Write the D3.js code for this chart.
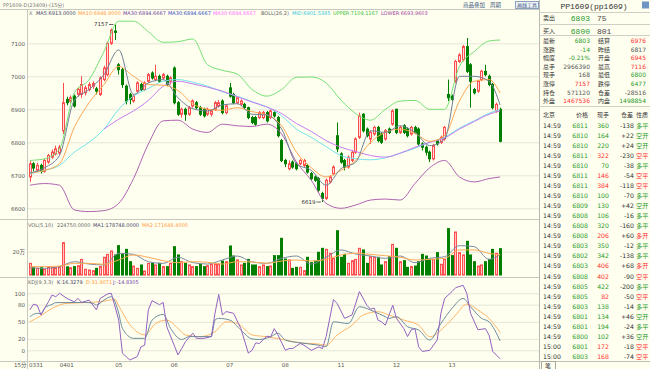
<!DOCTYPE html>
<html>
<head>
<meta charset="utf-8">
<script src="https://cdn.jsdelivr.net/npm/d3@7"></script>
<style>
  body { margin: 0; background: #fffff0; }
  svg { display: block; font-family: "DejaVu Sans", "Noto Sans CJK SC", sans-serif; }
</style>
</head>
<body>
<svg width="650" height="369"></svg>
<script>
// 15 minute bars, 0331 .. 0413
const open = [6695,6735,6715,6730,6712,6740,6755,6765,6768,6835, 6930,6925,6940,6945,6945,6950,6960,6970,6962,6945,
  6990,7005,7100,7137,7035,7020,6970,6945,6925,6955, 6975,6960,6985,7010,6990,7000,6995,7000,6985,7025,
  6920,6885,6900,6885,6910,6920,6905,6900,6885,6885, 6900,6910,6925,6890,6965,6945,6920,6915,6915,6905,
  6875,6875,6875,6875,6890,6875,6890,6875,6805,6745, 6720,6740,6735,6735,6730,6730,6705,6695,6690,6645,
  6630,6680,6705,6820,6765,6745,6725,6745,6770,6815, 6885,6840,6810,6825,6845,6825,6810,6840,6855,6900,
  6830,6850,6840,6825,6845,6840,6795,6785,6770,6750, 6805,6800,6810,6945,6940,6985,7045,7050,7090,7035,
  6960,6955,6990,7015,7000,6975,6895,6900];
const high = [6745,6740,6738,6735,6750,6765,6778,6790,6792,6980, 6938,6942,6945,6968,7000,6972,6982,6985,6968,7000,
  7032,7105,7145,7157,7040,7025,6975,6950,6945,6985, 6980,6985,7010,7015,7035,7005,7010,7005,7000,7030,
  6925,6905,6905,6910,6930,6925,6910,6905,6905,6900, 6925,6928,6930,6915,6980,6950,6940,6930,6920,6908,
  6880,6880,6895,6895,6895,6900,6895,6880,6810,6750, 6745,6745,6740,6750,6750,6735,6710,6700,6695,6650,
  6690,6700,6730,6860,6770,6750,6760,6775,6815,6890, 6888,6845,6835,6850,6850,6830,6840,6845,6900,6902,
  6850,6855,6845,6850,6850,6845,6800,6790,6775,6795, 6810,6820,6850,6990,6945,7050,7070,7095,7116,7040,
  6965,6990,7020,7035,7005,6980,6920,6905];
const low = [6680,6712,6710,6705,6708,6735,6750,6760,6762,6825, 6912,6918,6905,6938,6935,6942,6955,6962,6945,6940,
  6985,7000,7095,7110,7005,6965,6915,6915,6920,6950, 6955,6955,6980,6990,6985,6980,6990,6970,6975,6915,
  6880,6875,6865,6880,6905,6900,6880,6875,6880,6878, 6895,6905,6885,6885,6935,6915,6915,6910,6900,6870,
  6855,6850,6870,6870,6860,6870,6875,6815,6740,6725, 6715,6720,6715,6730,6725,6705,6685,6680,6650,6619,
  6625,6675,6700,6770,6735,6715,6720,6740,6765,6810, 6830,6815,6795,6820,6800,6795,6805,6825,6850,6825,
  6825,6825,6815,6820,6825,6790,6775,6760,6740,6745, 6790,6795,6805,6925,6925,6980,7040,7045,7010,6905,
  6945,6950,6985,7000,6970,6900,6890,6800];
const close = [6735,6722,6730,6712,6745,6760,6770,6780,6785,6920, 6920,6935,6910,6960,6975,6965,6975,6978,6955,6995,
  7025,7100,7140,7133,7020,6975,6925,6930,6940,6980, 6960,6980,7005,6995,7000,6985,7005,6975,6995,6920,
  6885,6900,6885,6905,6925,6905,6885,6880,6900,6895, 6920,6920,6890,6910,6940,6920,6935,6925,6905,6875,
  6860,6855,6890,6890,6865,6895,6880,6820,6745,6735, 6735,6725,6720,6745,6745,6710,6690,6685,6655,6630,
  6685,6695,6725,6780,6740,6725,6755,6770,6810,6880, 6835,6820,6830,6845,6805,6800,6835,6830,6895,6830,
  6845,6830,6820,6845,6830,6795,6785,6770,6750,6790, 6795,6815,6845,6935,6930,7045,7065,7090,7015,6985,
  6950,6985,7015,7005,6975,6905,6915,6803];
// volume, in 万 lots
const vol = [10.0,6.3,5.7,6.3,4.9,7.2,6.6,6.3,7.2,27.8, 7.0,6.3,7.2,8.0,13.4,4.9,4.3,3.7,5.7,7.2,
  15.2,17.7,20.6,17.2,25.2,17.7,22.0,11.4,7.7,5.7, 8.6,3.4,10.0,10.0,8.6,10.0,7.2,7.2,10.0,24.3,
  17.2,11.4,10.0,8.6,7.2,7.2,9.4,7.2,8.0,9.4, 9.4,9.4,12.0,11.4,24.9,16.3,12.9,8.6,10.0,13.4,
  8.6,8.6,7.2,8.6,7.2,7.7,16.6,16.6,31.5,13.7, 12.9,5.7,6.6,6.6,3.7,15.2,10.6,12.0,19.5,22.9,
  22.0,18.6,14.3,38.0,15.2,17.7,10.0,12.3,13.4,22.9, 21.5,10.0,15.7,15.2,15.2,8.6,11.4,15.7,26.3,22.9,
  11.4,12.3,6.6,7.2,7.7,11.4,17.7,16.3,13.4,13.4, 19.2,9.2,13.4,39.8,16.6,36.9,19.2,17.2,28.9,17.2,
  11.4,7.7,8.6,11.4,13.4,22.0,18.6,22.6];

const dayLabels = ["0331","0401","05","06","07","08","11","12","13"];
const dayStart = [0,8,23,38,53,68,83,98,113];
const priceTicks = [6600,6700,6800,6900,7000,7100];
const volTicks = [20];
const kdjTicks = [0,20,50,80,100];

// indicator lines at these bars
const sampleIdx = [0,4,8,12,16,20,24,28,32,36,40,44,48,52,56,60,64,68,72,76,80,84,88,92,96,100,104,108,112,116,120,124,127];
const ma5 = [6707,6723,6760,6927,6960,7005,7080,6945,6980,6990,6935,6902,6895,6913,6917,6885,6883,6840,6735,6715,6670,6720,6740,6835,6830,6850,6830,6790,6810,7000,7000,6985,6913];
const ma10 = [6707,6715,6735,6845,6920,6975,7030,7000,6975,6973,6957,6917,6900,6897,6905,6893,6883,6850,6770,6723,6695,6715,6745,6800,6830,6840,6827,6803,6820,6925,6985,6990,6949];
const bollMid = [6705,6715,6730,6770,6800,6840,6900,6940,6963,6985,6990,6982,6970,6953,6940,6923,6907,6880,6840,6815,6787,6760,6750,6747,6753,6767,6782,6800,6815,6843,6865,6888,6900];
const bollUpper = [6745,6750,6780,6950,6990,7075,7167,7167,7135,7103,7105,7113,7035,7018,7007,6960,6940,6960,6997,6998,6980,6928,6887,6867,6900,6925,6927,6900,6900,7030,7075,7107,7110];
const bollLower = [6670,6675,6670,6595,6590,6593,6615,6690,6795,6865,6867,6840,6830,6855,6850,6848,6855,6825,6740,6685,6615,6600,6610,6625,6628,6625,6675,6723,6745,6695,6680,6690,6695];
const ma30Idx = [20,24,28,32,36,40,44,48,52,56,60,64,68,72,76,80,84,88,92,96,100,104,108,112,116,120,124,127];
const ma30 = [6840,6870,6895,6927,6970,6985,6977,6967,6955,6938,6922,6907,6887,6857,6833,6805,6785,6772,6760,6755,6767,6785,6800,6813,6840,6863,6885,6895];
const volMa1 = [6.3,5.7,7.2,11.4,9.4,8.6,18.6,17.7,11.4,10.0,15.2,10.6,9.4,12.9,16.3,11.2,10.0,14.3,16.3,9.4,15.2,21.5,18.0,16.3,14.3,16.3,10.6,14.3,15.7,25.2,24.3,13.4,17.9];
const volMa2 = [7.2,7.2,7.7,10.0,10.0,9.2,12.9,17.2,15.2,12.3,10.6,11.4,10.9,9.4,11.4,11.2,10.0,12.0,12.9,12.0,13.4,17.2,18.6,17.7,16.6,15.2,12.9,13.4,14.3,21.5,21.5,18.6,17.2];

const kIdx = [0,2,3,4,6,7,15,17,18,20,22,23,24,25,28,31,33,36,38,41,43,49,50,51,54,57,60,62,65,67,69,73,78,80,82,86,89,93,96,97,99,102,105,108,111,114,117,119,122,124,127];
const kVal = [59,65,64,74,80.6,83.6,84,82.4,79.5,88,94,85,65,38.5,21,21,53,63,38.5,19,24,24,53,56,53,35.6,20,19,23.8,30,18,13,9,6.3,50,47,76.5,67.7,59,56,59,41.4,35.6,18,47,73.6,91,76.5,56,50,16.3];
const dIdx = [0,3,6,10,15,19,23,24,27,31,34,37,40,42,46,50,53,56,60,64,69,73,78,80,83,87,90,94,97,101,105,108,112,115,118,121,124,127];
const dVal = [50,60.8,73.6,82.4,83.6,85.3,89,78,45,27,47.3,53,38.5,27,24,32.7,50,47.3,27,23.8,18,13,11,9,26.8,44,61.9,67.7,61.9,53,44,23.8,41.4,61.9,81,70.6,56,31.5];
const jIdx = [0,1,2,3,5,6,7,8,10,12,13,14,16,18,19,21,22,24,25,27,29,30,31,32,33,35,36,37,40,41,42,44,45,47,49,50,51,52,53,55,57,59,60,61,62,64,65,66,67,69,70,71,73,74,76,78,79,80,82,83,85,87,89,91,92,93,94,95,96,97,98,99,101,102,103,104,105,106,108,110,111,112,114,115,117,118,119,121,123,124,125,127];
const jVal = [71,81,79,62,85,97,94,100,91,85,91,84,88,71,91,99,100,53,-5,-17,-11,6,9,71,87,80,84,41,-8,3,15,30,21,21,24,65,98,62,68,65,38,-5,0,13,12,25,23,38,27,0,3,3,12,9,0,6,3,24,89,82,56,62,103,79,72,74,53,50,44,62,79,56,38,24,36,38,6,-2,0,18,65,91,103,110,114,100,65,36,38,27,-2,-15];

// quote panel
const quoteNames1 = ["最新","涨跌","幅度","总手","现手","涨停","持仓","外盘"];
const quoteValues1 = ["6803","-14","-0.21%","2966390","168","7157","571120","1467536"];
const quoteTone1 = ["down","down","down","flat","flat","up","flat","up"];
const quoteNames2 = ["结算","昨结","开盘","最高","最低","跌停","仓差","内盘"];
const quoteValues2 = ["6976","6817","6945","7116","6800","6477","-28516","1498854"];
const quoteTone2 = ["up","flat","up","up","down","down","flat","down"];
const askBid = [["卖出","6803","75"],["买入","6800","801"]];

const tickTime = ["14:59","14:59","14:59","14:59","14:59","14:59","14:59","14:59","14:59","14:59","14:59","14:59",
  "14:59","14:59","14:59","14:59","14:59","14:59","14:59","14:59","14:59","14:59","15:00","15:00"];
const tickPrice = ["6811","6810","6810","6811","6810","6811","6811","6810","6809","6808","6808","6808",
  "6803","6802","6803","6808","6805","6805","6803","6801","6801","6800","6801","6803"];
const tickVol = ["360","164","220","322","70","146","384","100","130","106","320","206",
  "350","342","406","402","422","82","138","134","194","102","172","168"];
const tickOi = ["-138","+22","+24","-230","-38","-54","-118","-70","+42","-16","-160","+60",
  "-12","-138","+68","-90","-200","-50","-14","+46","-24","+36","-18","-74"];
const tickType = ["多平","空开","空开","空平","多平","空平","空平","多平","空开","多平","多平","多开",
  "多平","多平","多开","空平","多平","空平","多平","空开","多平","空开","空平","空平"];

const RED = "#ff4d4d", PINK = "#ffdede", GREEN = "#007f00";
const GRID = "#e6e6d8", SEP = "#c8c8c0", TXT = "#555";
const TONE = {up: "#ff2f2f", down: "#2a9a2a", flat: "#555"};
const svg = d3.select("svg");
svg.append("rect").attr("width", 650).attr("height", 369).attr("fill", "#fffff0");

const n = close.length;
const xs = d3.scaleBand().domain(d3.range(n)).range([28, 502]).paddingInner(0.3).paddingOuter(0.15);
const bw = xs.bandwidth();
const xl = d3.scaleLinear().domain([0, n - 1]).range([xs(0) + bw / 2, xs(n - 1) + bw / 2]);
const ys = d3.scaleLinear().domain([6600, 7100]).range([208.3, 43.3]);
const vs = d3.scaleLinear().domain([0, 20]).range([275, 251.7]);
const ks = d3.scaleLinear().domain([0, 100]).range([350.3, 293.3]);
const bx = i => Math.round(xs(i));

//gridlines and left labels
function leftAxis(scale, ticks, fmt) {
  svg.append("g").attr("transform", "translate(27,0)")
    .call(d3.axisLeft(scale).tickValues(ticks).tickSize(-512).tickPadding(2).tickFormat(fmt))
    .call(g => g.select(".domain").remove())
    .call(g => g.selectAll("line").attr("stroke", GRID))
    .call(g => g.selectAll("text").attr("fill", TXT).attr("font-size", 5.5)
      .attr("font-family", "DejaVu Sans, Noto Sans CJK SC"));
}
leftAxis(ys, priceTicks, d3.format("d"));
leftAxis(vs, volTicks, d => d + "万");
leftAxis(ks, kdjTicks, d3.format("d"));

//panel borders
const hLines = [[0, 539, 9.5], [0, 539, 219.5], [0, 539, 277.5], [0, 539, 361.5]];
svg.append("g").selectAll("line").data(hLines).join("line")
  .attr("x1", d => d[0]).attr("x2", d => d[1]).attr("y1", d => d[2]).attr("y2", d => d[2])
  .attr("stroke", SEP).attr("stroke-width", 1.2);
svg.append("line").attr("x1", 27.5).attr("x2", 27.5).attr("y1", 9.5).attr("y2", 369).attr("stroke", SEP);
svg.append("line").attr("x1", 539.5).attr("x2", 539.5).attr("y1", 0).attr("y2", 369).attr("stroke", "#b8b8b0");

const bars = d3.range(n).map(i => ({i, o: open[i], h: high[i], l: low[i], c: close[i], v: vol[i], up: close[i] >= open[i]}));

//candles
const gc = svg.append("g");
gc.selectAll("line").data(bars).join("line")
  .attr("x1", d => bx(d.i) + 1.5).attr("x2", d => bx(d.i) + 1.5)
  .attr("y1", d => ys(d.h)).attr("y2", d => ys(d.l))
  .attr("stroke", d => d.up ? RED : GREEN);
gc.selectAll("rect").data(bars).join("rect")
  .attr("x", d => bx(d.i) + 0.5).attr("width", 2)
  .attr("y", d => ys(Math.max(d.o, d.c)))
  .attr("height", d => Math.max(0.5, Math.abs(ys(d.o) - ys(d.c))))
  .attr("fill", d => d.up ? PINK : GREEN).attr("stroke", d => d.up ? RED : GREEN);

//volume bars
svg.append("g").selectAll("rect").data(bars).join("rect")
  .attr("x", d => bx(d.i) + 0.5).attr("width", 2)
  .attr("y", d => vs(d.v)).attr("height", d => vs(0) - vs(d.v))
  .attr("fill", d => d.up ? "#ffc4c4" : GREEN).attr("stroke", d => d.up ? RED : GREEN);

function drawLine(idx, vals, scale, color, curve) {
  svg.append("path")
    .attr("d", d3.line().x((d, k) => xl(idx[k])).y(d => scale(d)).curve(curve || d3.curveMonotoneX)(vals))
    .attr("fill", "none").attr("stroke", color).attr("stroke-width", 1);
}
drawLine(sampleIdx, bollUpper, ys, "#74e074");
drawLine(sampleIdx, bollLower, ys, "#b062b0");
drawLine(sampleIdx, bollMid, ys, "#72e2ea");
drawLine(ma30Idx, ma30, ys, "#c77cf0");
drawLine(sampleIdx, ma10, ys, "#ffa650");
drawLine(sampleIdx, ma5, ys, "#708096");
drawLine(sampleIdx, volMa1, vs, "#7b8aa2");
drawLine(sampleIdx, volMa2, vs, "#ffaa55");
drawLine(dIdx, dVal, ks, "#ffb466");
drawLine(kIdx, kVal, ks, "#6d8c9c");
drawLine(jIdx, jVal, ks, "#9262c0", d3.curveLinear);

//high / low markers
function marker(i, price, label) {
  const x = xl(i), y = ys(price);
  svg.append("line").attr("x1", x - 6).attr("x2", x - 1.5).attr("y1", y).attr("y2", y).attr("stroke", "#666");
  svg.append("text").attr("x", x - 7).attr("y", y + 2).attr("text-anchor", "end")
    .attr("font-size", 5.5).attr("fill", "#333").text(label);
}
const hi = d3.maxIndex(high), lo = d3.minIndex(low);
marker(hi, high[hi], high[hi]);
marker(lo, low[lo], low[lo]);

//panel headers
function header(y, items) {
  const t = svg.append("g").attr("font-size", 5);
  items.forEach(([s, c, x]) => t.append("text").attr("x", x).attr("y", y).attr("fill", c).text(s));
}
header(15.2, [["X", "#777", 29], ["MA5:6913.0000", "#3c4064", 36], ["MA10:6948.9000", "#ff9a3c", 78],
  ["MA30:6894.6667", "#6c3c9c", 123], ["MA30:6894.6667", "#3048c0", 168], ["MA30:6894.6667", "#ff70ff", 213],
  ["BOLL(26,2)", "#666", 261], ["MID:6901.5385", "#30c8d8", 292], ["UPPER:7109.1167", "#38c038", 333],
  ["LOWER:6693.9603", "#a040a0", 381]]);
header(227, [["VOL(5,10)", "#666", 28], ["224750.0000", "#666", 57], ["MA1:178748.0000", "#3c4064", 93],
  ["MA2:171648.4000", "#ff9a3c", 142]]);
header(283.8, [["KDJ(9,3,3)", "#666", 28], ["K:16.3279", "#3c4064", 57], ["D:31.9071", "#ff9a3c", 86],
  ["J:-14.8305", "#7040a8", 113]]);

svg.append("text").attr("x", 3).attr("y", 7).attr("font-size", 5).attr("fill", "#777").text("PP1609-D(23409)-(15分)");
svg.append("text").attr("x", 463).attr("y", 6.5).attr("font-size", 5.5).attr("fill", "#3a5a80").text("商品叠加");
svg.append("text").attr("x", 490).attr("y", 6.5).attr("font-size", 5.5).attr("fill", "#3a5a80").text("周期");
svg.append("rect").attr("x", 515.5).attr("y", 1.5).attr("width", 23).attr("height", 7).attr("fill", "#eef2f8").attr("stroke", "#8aa0c0");
svg.append("text").attr("x", 517).attr("y", 6.8).attr("font-size", 5).attr("fill", "#3a5a80").text("画线工具");

//date axis
svg.append("text").attr("x", 14).attr("y", 367).attr("font-size", 5.5).attr("fill", TXT).text("15分");
svg.append("g").selectAll("text").data(dayLabels).join("text")
  .attr("x", (d, k) => xs(dayStart[k]) + (k ? 1.5 : 0.5)).attr("y", 367)
  .attr("font-size", 5.5).attr("fill", TXT).text(d => d);

//quote panel
const rp = svg.append("g").attr("font-family", "DejaVu Sans, Noto Sans CJK SC");
rp.append("text").attr("x", 594).attr("y", 8.5).attr("text-anchor", "middle")
  .attr("font-family", "Liberation Mono, monospace").attr("font-size", 8).attr("fill", "#333").text("PP1609(pp1609)");
rp.append("rect").attr("x", 642).attr("y", 1.5).attr("width", 7).attr("height", 7).attr("fill", "#6f95c4");
[12.5, 24.5, 35.5, 106.5].forEach(y => rp.append("line").attr("x1", 539.5).attr("x2", 650).attr("y1", y).attr("y2", y).attr("stroke", "#d0d0c4"));
askBid.forEach(([lab, px, qty], k) => {
  const y = 20 + 13 * k;
  rp.append("text").attr("x", 543).attr("y", y).attr("font-size", 6).attr("fill", "#333").text(lab);
  rp.append("text").attr("x", 590).attr("y", y + 0.5).attr("text-anchor", "end").attr("font-family", "Liberation Mono, monospace")
    .attr("font-size", 8).attr("fill", "#2a9a2a").text(px);
  rp.append("text").attr("x", 597).attr("y", y + 0.5).attr("font-family", "Liberation Mono, monospace")
    .attr("font-size", 8).attr("fill", "#444").text(qty);
});
quoteNames1.forEach((lab, k) => {
  const y = 43 + 8.6 * k;
  rp.append("text").attr("x", 543).attr("y", y).attr("font-size", 6).attr("fill", "#333").text(lab);
  rp.append("text").attr("x", 590).attr("y", y).attr("text-anchor", "end").attr("font-size", 6)
    .attr("fill", TONE[quoteTone1[k]]).text(quoteValues1[k]);
  rp.append("text").attr("x", 598).attr("y", y).attr("font-size", 6).attr("fill", "#333").text(quoteNames2[k]);
  rp.append("text").attr("x", 646).attr("y", y).attr("text-anchor", "end").attr("font-size", 6)
    .attr("fill", TONE[quoteTone2[k]]).text(quoteValues2[k]);
});
[["北京", 543, "start"], ["价格", 588, "end"], ["现手", 609, "end"], ["仓差", 633, "end"], ["性质", 636, "start"]]
  .forEach(([s, x, a]) => rp.append("text").attr("x", x).attr("y", 116.5).attr("text-anchor", a)
    .attr("font-size", 6).attr("fill", "#333").text(s));
tickTime.forEach((t, k) => {
  const y = 127.5 + 10.07 * k;
  const buy = tickType[k] === "空平" || tickType[k] === "多开";
  const col = buy ? "#ff2f2f" : "#2a9a2a";
  rp.append("text").attr("x", 543).attr("y", y).attr("font-size", 6.2).attr("fill", "#333").text(t);
  rp.append("text").attr("x", 588).attr("y", y).attr("text-anchor", "end").attr("font-size", 6.2).attr("fill", "#2a9a2a").text(tickPrice[k]);
  rp.append("text").attr("x", 609).attr("y", y).attr("text-anchor", "end").attr("font-size", 6.2).attr("fill", col).text(tickVol[k]);
  rp.append("text").attr("x", 634).attr("y", y).attr("text-anchor", "end").attr("font-size", 6.2).attr("fill", "#333").text(tickOi[k]);
  rp.append("text").attr("x", 636).attr("y", y).attr("font-size", 6.2).attr("fill", col).text(tickType[k]);
});
rp.append("line").attr("x1", 539.5).attr("x2", 650).attr("y1", 361.5).attr("y2", 361.5).attr("stroke", "#c0c0b8");
rp.append("rect").attr("x", 541.5).attr("y", 361.5).attr("width", 14).attr("height", 8).attr("fill", "#fffff0").attr("stroke", "#a8a8a0");
rp.append("text").attr("x", 545).attr("y", 368).attr("font-size", 6).attr("fill", "#333").text("笔");
</script>
</body>
</html>
